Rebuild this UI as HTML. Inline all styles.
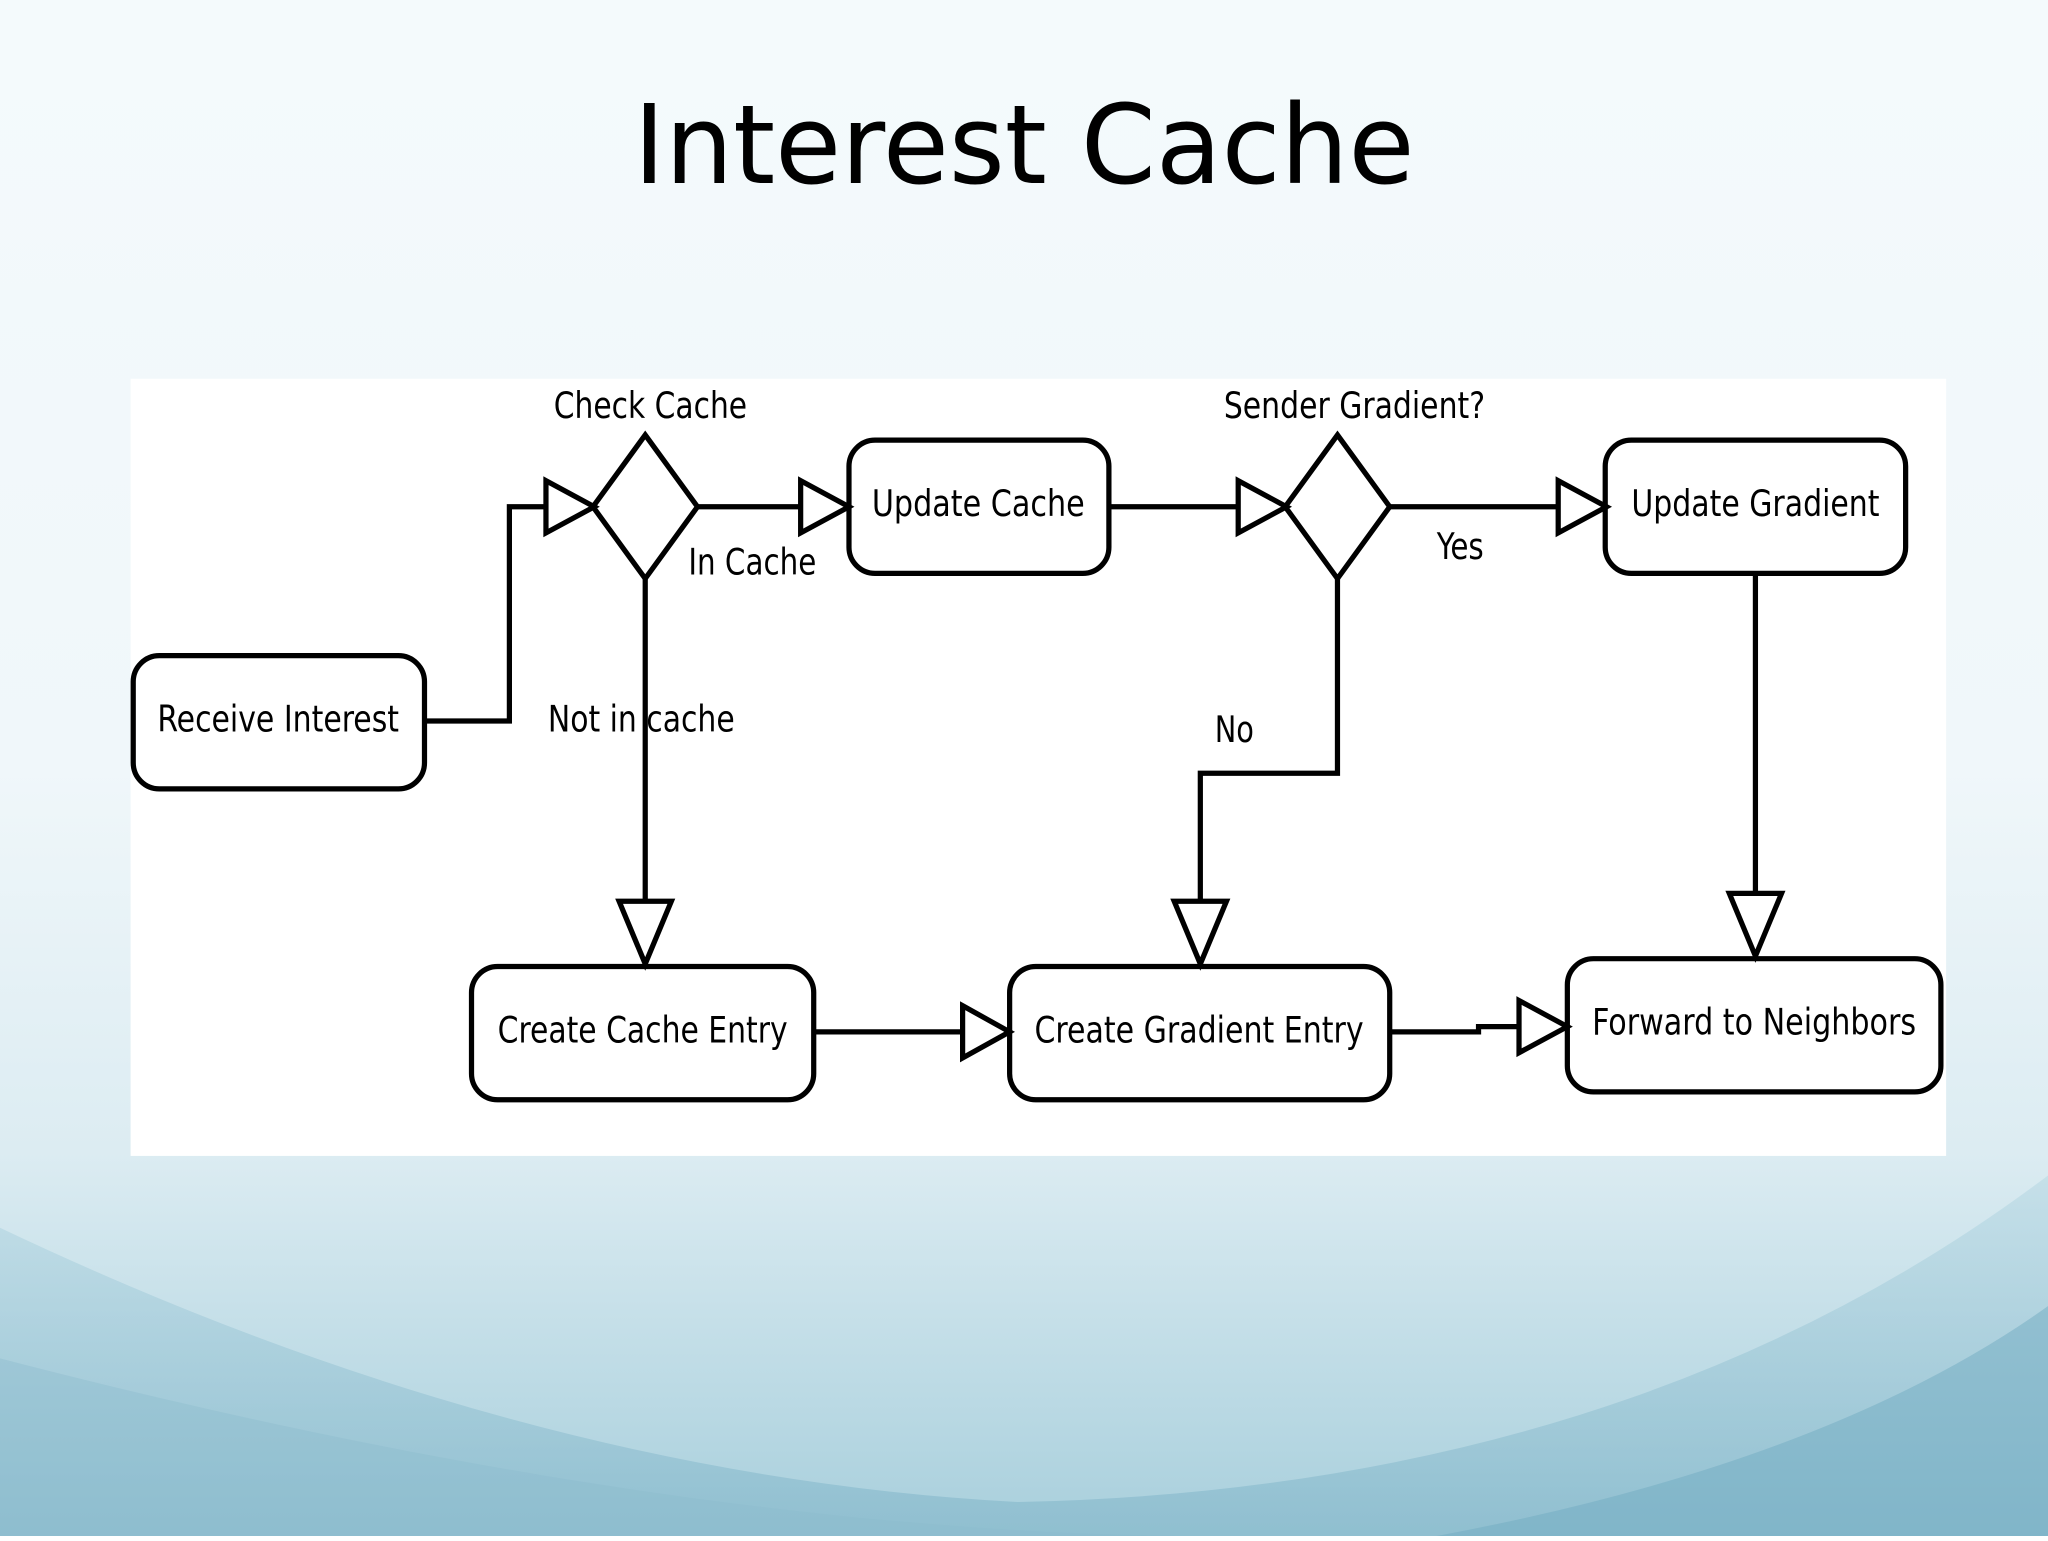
<!DOCTYPE html>
<html><head><meta charset="utf-8"><style>
html,body{margin:0;padding:0;}
body{width:2048px;height:1536px;overflow:hidden;}
</style></head><body>
<svg width="2048" height="1536" viewBox="0 0 1568 1176" xmlns="http://www.w3.org/2000/svg">
<defs>
<linearGradient id="bg" x1="0" y1="0" x2="0" y2="1">
<stop offset="0" stop-color="#f4fafc"/>
<stop offset="0.5" stop-color="#f0f7fa"/>
<stop offset="0.75" stop-color="#dcecf2"/>
<stop offset="1" stop-color="#a8cfdc"/>
</linearGradient>
<linearGradient id="w1" x1="0" y1="0" x2="0" y2="1">
<stop offset="0" stop-color="#b9d9e4"/>
<stop offset="1" stop-color="#7fb4c8"/>
</linearGradient>
</defs>
<rect width="1568" height="1176" fill="url(#bg)"/>
<path d="M0 940 Q400 1130 780 1150 Q1250 1140 1568 900 L1568 1176 L0 1176 Z" fill="url(#w1)" opacity="0.6"/>
<path d="M0 1040 Q500 1170 900 1176 L0 1176 Z" fill="#8dbccd" opacity="0.4"/>
<path d="M1100 1176 Q1400 1120 1568 1000 L1568 1176 Z" fill="#72abc1" opacity="0.5"/>
<text x="784" y="140" text-anchor="middle" font-family="DejaVu Sans, Liberation Sans, sans-serif" font-size="84" fill="#000" textLength="598" lengthAdjust="spacingAndGlyphs">Interest Cache</text>
<rect x="100" y="290" width="1390" height="595" fill="#fff"/>
<g fill="none" stroke="#000" stroke-width="4">
<rect x="102" y="502" width="223" height="102" rx="20"/>
<rect x="650" y="337" width="199" height="102" rx="20"/>
<rect x="1229" y="337" width="230" height="102" rx="20"/>
<rect x="361" y="740" width="262" height="102" rx="20"/>
<rect x="773" y="740" width="291" height="102" rx="20"/>
<rect x="1200" y="734" width="286" height="102" rx="20"/>
<polygon points="494,333 534,388 494,443 454,388"/>
<polygon points="1024,333 1064,388 1024,443 984,388"/>
<polyline points="325,552 390,552 390,388 418,388"/>
<polygon points="418,368 455,388 418,408"/>
<polyline points="534,388 613,388"/>
<polygon points="613,368 650,388 613,408"/>
<polyline points="849,388 948,388"/>
<polygon points="948,368 985,388 948,408"/>
<polyline points="1064,388 1193,388"/>
<polygon points="1193,368 1230,388 1193,408"/>
<polyline points="494,443 494,690"/>
<polygon points="474,690 494,738 514,690"/>
<polyline points="623,790 737,790"/>
<polygon points="737,770 773,790 737,810"/>
<polyline points="1024,443 1024,592 919,592 919,690"/>
<polygon points="899,690 919,738 939,690"/>
<polyline points="1064,790 1132,790 1132,786 1163,786"/>
<polygon points="1163,766 1200,786 1163,806"/>
<polyline points="1344,439 1344,684"/>
<polygon points="1324,684 1344,732 1364,684"/>
</g>
<g font-family="DejaVu Sans Condensed, DejaVu Sans, Liberation Sans, sans-serif" font-size="28" fill="#000" text-anchor="middle">
<text x="213" y="560" textLength="185" lengthAdjust="spacingAndGlyphs">Receive Interest</text>
<text x="749" y="395" textLength="163" lengthAdjust="spacingAndGlyphs">Update Cache</text>
<text x="1344" y="395" textLength="190" lengthAdjust="spacingAndGlyphs">Update Gradient</text>
<text x="492" y="798" textLength="222" lengthAdjust="spacingAndGlyphs">Create Cache Entry</text>
<text x="918" y="798" textLength="252" lengthAdjust="spacingAndGlyphs">Create Gradient Entry</text>
<text x="1343" y="792" textLength="248" lengthAdjust="spacingAndGlyphs">Forward to Neighbors</text>
<text x="498" y="320" textLength="148" lengthAdjust="spacingAndGlyphs">Check Cache</text>
<text x="1037" y="320" textLength="200" lengthAdjust="spacingAndGlyphs">Sender Gradient?</text>
<text x="576" y="440" textLength="98" lengthAdjust="spacingAndGlyphs">In Cache</text>
<text x="1118" y="428" textLength="36" lengthAdjust="spacingAndGlyphs">Yes</text>
<text x="491" y="560" textLength="143" lengthAdjust="spacingAndGlyphs">Not in cache</text>
<text x="945" y="568" textLength="30" lengthAdjust="spacingAndGlyphs">No</text>
</g>
</svg>
</body></html>
